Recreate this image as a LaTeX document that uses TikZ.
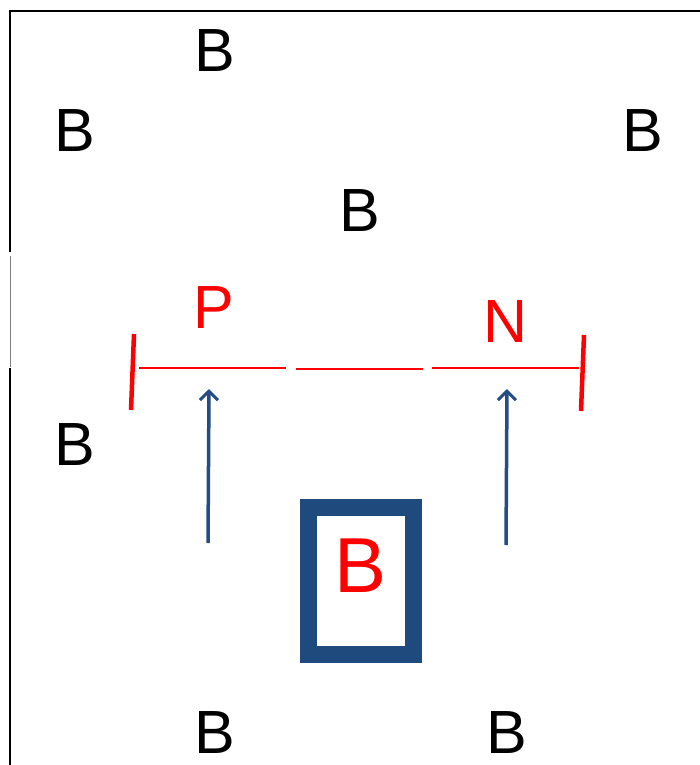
\documentclass[tikz,border=0pt]{standalone}
\usepackage{fontspec}
\setmainfont{Liberation Sans}
\usetikzlibrary{arrows.meta}
\definecolor{navy}{HTML}{1F4A7E}
\definecolor{arrowblue}{HTML}{254C84}
\tikzset{
  lbl/.style={inner sep=0pt, font=\fontsize{61}{61}\selectfont},
  redlbl/.style={lbl, text=red},
  redline/.style={red, line width=2pt},
  tick/.style={red, line width=4.5pt},
  uparrow/.style={arrowblue, line width=3.5pt, -{Straight Barb[length=9pt,width=18pt,line width=3pt]}},
  frame/.style={black, line width=2pt},
}
\begin{document}
\begin{tikzpicture}[x=1pt, y=-1pt]
\useasboundingbox (0,0) rectangle (700,765);
% frame
\coordinate (tl) at (10,11);
\coordinate (tr) at (700,11);
\coordinate (g1) at (10,252);
\coordinate (g2) at (10,256);
\coordinate (g3) at (10,367);
\coordinate (g4) at (10,368);
\coordinate (bl) at (10,765);
\draw[frame] (tr) -- (tl) -- (g1);
\draw[gray, line width=1pt] (g2) -- (g3);
\draw[frame] (g4) -- (bl);
% labels
\node[lbl] (b1) at (215,51) {B};
\node[lbl] (b2) at (75,131) {B};
\node[lbl] (b3) at (643,131) {B};
\node[lbl] (b4) at (360,211) {B};
\node[lbl] (b5) at (75,445) {B};
\node[lbl] (b6) at (215,733) {B};
\node[lbl] (b7) at (507,733) {B};
\node[redlbl] (p) at (214,308) {P};
\node[redlbl] (n) at (506,322) {N};
% red line segments
\coordinate (s1a) at (139,368); \coordinate (s1b) at (286,368);
\coordinate (s2a) at (296,369); \coordinate (s2b) at (423,369);
\coordinate (s3a) at (432,368); \coordinate (s3b) at (579,368);
\draw[redline] (s1a) -- (s1b);
\draw[redline] (s2a) -- (s2b);
\draw[redline] (s3a) -- (s3b);
\coordinate (t1a) at (134,334); \coordinate (t1b) at (131,410);
\coordinate (t2a) at (584,335); \coordinate (t2b) at (581,411);
\draw[tick] (t1a) -- (t1b);
\draw[tick] (t2a) -- (t2b);
% arrows
\coordinate (a1s) at (208,543); \coordinate (a1e) at (209,389);
\coordinate (a2s) at (506,545); \coordinate (a2e) at (507,389);
\draw[uparrow] (a1s) -- (a1e);
\draw[uparrow] (a2s) -- (a2e);
% box
\node[draw=navy, line width=17pt, minimum width=105pt, minimum height=147pt, inner sep=0pt] (box) at (360.5,580.5) {};
\node[inner sep=0pt, text=red, font=\fontsize{78}{78}\selectfont] (rb) at (361,566) {B};
\end{tikzpicture}
\end{document}
